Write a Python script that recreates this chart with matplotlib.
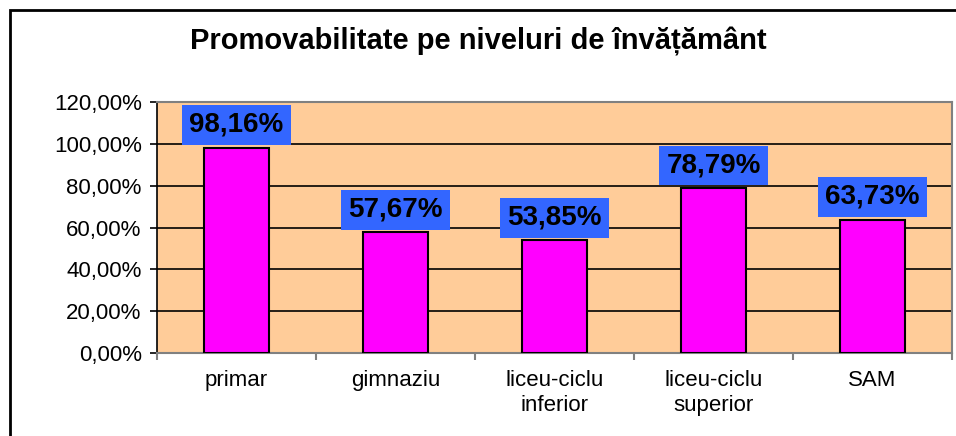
import matplotlib.pyplot as plt
from matplotlib.patches import Rectangle
from matplotlib.ticker import FuncFormatter

plt.rcParams['font.family'] = ['Liberation Sans', 'DejaVu Sans']

# data
categories = ["primar", "gimnaziu", "liceu-ciclu\ninferior", "liceu-ciclu\nsuperior", "SAM"]
values = [98.16, 57.67, 53.85, 78.79, 63.73]
yticks = [0, 20, 40, 60, 80, 100, 120]

fig = plt.figure(figsize=(9.56, 4.36), dpi=100)
ax = fig.add_axes([157 / 956, 1 - 353 / 436, (952 - 157) / 956, (353 - 102) / 436])

ax.set_facecolor("#FFCC99")
x = range(len(categories))
ax.bar(x, values, width=0.41, color="#FF00FF", edgecolor="black", linewidth=1.5, zorder=3)

ax.set_ylim(0, 120)
ax.set_xlim(-0.5, len(categories) - 0.5)
ax.set_yticks(yticks)
ax.yaxis.set_major_formatter(FuncFormatter(lambda v, p: f"{v:.2f}%".replace(".", ",")))
ax.grid(axis="y", color="black", linewidth=1.2, zorder=1)
ax.set_axisbelow(True)

ax.set_xticks([i + 0.5 for i in range(-1, len(categories))])
ax.set_xticklabels([])
ax.set_xticks(list(x), minor=True)
ax.set_xticklabels(categories, minor=True, fontsize=16, linespacing=1.25)
ax.tick_params(axis="x", which="minor", length=0, pad=12)
ax.tick_params(axis="x", which="major", length=5, color="#808080", width=1.5)
ax.tick_params(axis="y", length=5, width=1.2, labelsize=16, pad=6)

for s in ["top", "right", "bottom"]:
    ax.spines[s].set_color("#808080")
    ax.spines[s].set_linewidth(1.5)
ax.spines["left"].set_color("black")
ax.spines["left"].set_linewidth(1.2)

for xi, v in zip(x, values):
    ax.annotate(f"{v:.2f}%".replace(".", ","), (xi, v), xytext=(0, 7), textcoords="offset points",
                ha="center", va="bottom", fontsize=20, fontweight="bold", zorder=5,
                bbox=dict(boxstyle="square,pad=0.25", facecolor="#3366FF", edgecolor="none"))

fig.text(0.5, 1 - 42 / 436, "Promovabilitate pe niveluri de învățământ",
         ha="center", va="center", fontsize=21, fontweight="bold")

# chart border (only left and top visible in the crop)
fig.patches.append(Rectangle((10 / 956, -0.1), 1.2, 1 - 10 / 436 + 0.1, transform=fig.transFigure,
                             fill=False, edgecolor="black", linewidth=2))

fig.savefig("out.png", dpi=100)
